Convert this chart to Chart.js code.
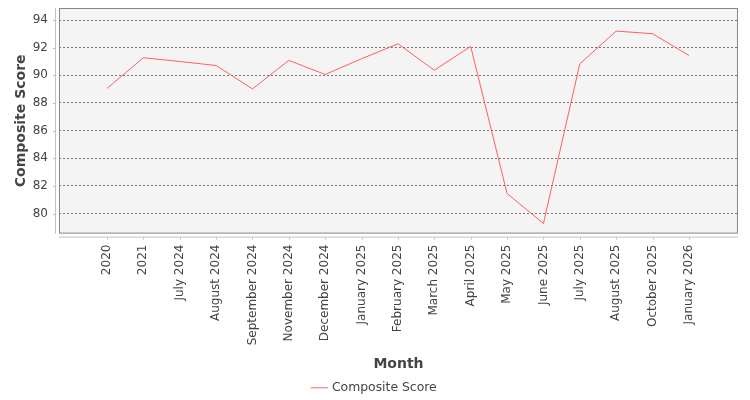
<!DOCTYPE html>
<html>
<head>
<meta charset="utf-8">
<script src="https://cdn.jsdelivr.net/npm/chart.js@4.4.1/dist/chart.umd.min.js"></script>
<style>
  html, body { margin: 0; padding: 0; background: #ffffff; }
  #contenedor { width: 750px; height: 400px; }
</style>
</head>
<body>
<div id="contenedor"><canvas id="grafica"></canvas></div>
<script>
// Datos
const meses = ["2020", "2021", "July 2024", "August 2024", "September 2024", "November 2024",
  "December 2024", "January 2025", "February 2025", "March 2025", "April 2025", "May 2025",
  "June 2025", "July 2025", "August 2025", "October 2025", "January 2026"];
const puntajes = [89.05, 91.27, 91.0, 90.71, 89.02, 91.08, 90.06, 91.2, 92.28, 90.37, 92.09,
  81.45, 79.28, 90.83, 93.2, 93.01, 91.44];
const ticksY = [80, 82, 84, 86, 88, 90, 92, 94];

const colorTexto = "#444444";
const fuente = "'DejaVu Sans', sans-serif";

// fondo gris del area y ejes desplazados (estilo jfreechart)
const fondoPlugin = {
  id: "fondo",
  beforeDraw(chart) {
    const { ctx, chartArea: a } = chart;
    ctx.save();
    ctx.fillStyle = "#f4f4f4";
    ctx.fillRect(a.left, a.top, a.right - a.left, a.bottom - a.top);
    ctx.restore();
  },
  afterDraw(chart) {
    const { ctx, chartArea: a, scales } = chart;
    ctx.save();
    ctx.strokeStyle = "#888888";
    ctx.lineWidth = 1;
    ctx.strokeRect(a.left + 0.5, a.top + 0.5, a.right - a.left - 1, a.bottom - a.top - 1);
    // eje y
    ctx.strokeStyle = "#c0c0c0";
    ctx.beginPath();
    ctx.moveTo(a.left - 3.5, a.top);
    ctx.lineTo(a.left - 3.5, a.bottom);
    ticksY.forEach((v) => {
      const y = Math.round(scales.y.getPixelForValue(v)) + 0.5;
      ctx.moveTo(a.left - 3.5, y);
      ctx.lineTo(a.left - 6, y);
    });
    // eje x
    ctx.moveTo(a.left, a.bottom + 3.5);
    ctx.lineTo(a.right, a.bottom + 3.5);
    meses.forEach((m, i) => {
      const x = Math.round(scales.x.getPixelForValue(i)) + 0.5;
      ctx.moveTo(x, a.bottom + 3.5);
      ctx.lineTo(x, a.bottom + 6);
    });
    ctx.stroke();
    ctx.restore();
  },
};

const ctx = document.getElementById("grafica").getContext("2d");
const grafica = new Chart(ctx, {
  type: "line",
  data: {
    datasets: [{
      label: "Composite Score",
      data: puntajes.map((v, i) => ({ x: i, y: v })),
      borderColor: "#ff5f5f",
      backgroundColor: "#ff5f5f",
      borderWidth: 1,
      pointRadius: 0,
      tension: 0,
    }],
  },
  options: {
    responsive: true,
    maintainAspectRatio: false,
    animation: false,
    layout: { padding: { top: 8, right: 0, left: 0, bottom: -4 } },
    plugins: {
      tooltip: { enabled: false },
      legend: {
        position: "bottom",
        labels: {
          usePointStyle: true,
          pointStyle: "line",
          boxWidth: 16,
          color: colorTexto,
          font: { family: fuente, size: 12.4 },
          padding: 4,
        },
      },
    },
    scales: {
      x: {
        type: "linear",
        min: -1.32,
        max: 17.35,
        afterBuildTicks: (scale) => {
          scale.ticks = meses.map((m, i) => ({ value: i }));
        },
        afterFit: (scale) => {
          scale.height = 144;
          scale.paddingLeft = 0;
          scale.paddingRight = 0;
        },
        grid: { display: false, drawTicks: false },
        border: { display: false },
        ticks: {
          autoSkip: false,
          maxRotation: 90,
          minRotation: 90,
          padding: 11,
          color: colorTexto,
          font: { family: fuente, size: 12 },
          callback: (v) => meses[v],
        },
        title: {
          display: true,
          text: "Month",
          color: colorTexto,
          font: { family: fuente, size: 14, weight: "bold" },
          padding: { top: 0, bottom: 5 },
        },
      },
      y: {
        min: 78.55,
        max: 94.87,
        afterBuildTicks: (scale) => {
          scale.ticks = ticksY.map((v) => ({ value: v }));
        },
        afterFit: (scale) => {
          scale.width = 59;
          scale.paddingTop = 0;
          scale.paddingBottom = 0;
        },
        grid: { color: "#777777", drawTicks: false, lineWidth: 1 },
        border: { display: false, dash: [2, 2] },
        ticks: {
          padding: 11,
          color: colorTexto,
          font: { family: fuente, size: 12 },
        },
        title: {
          display: true,
          text: "Composite Score",
          color: colorTexto,
          font: { family: fuente, size: 14, weight: "bold" },
          padding: { top: 13, bottom: 0 },
        },
      },
      // margen derecho vacio, para que la leyenda quede centrada en todo el ancho
      margenDerecho: {
        position: "right",
        display: true,
        grid: { display: false, drawTicks: false },
        border: { display: false },
        ticks: { display: false },
        afterFit: (scale) => { scale.width = 12; },
      },
    },
  },
  plugins: [fondoPlugin],
});
</script>
</body>
</html>
